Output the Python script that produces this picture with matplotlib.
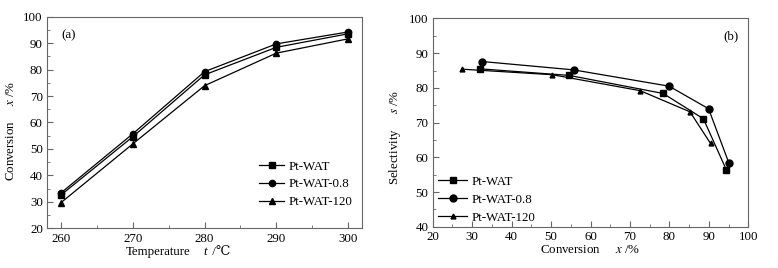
import matplotlib
matplotlib.use("Agg")
import matplotlib.pyplot as plt
from matplotlib.ticker import MultipleLocator

plt.rcParams['font.family'] = ['Liberation Serif', 'DejaVu Serif']
plt.rcParams['font.size'] = 9.3
plt.rcParams['mathtext.fontset'] = 'stix'

# panel (a): conversion vs temperature
temp = [260, 270, 280, 290, 300]
conv_wat = [32.6, 54.6, 78.0, 88.4, 93.5]
conv_wat08 = [33.4, 55.7, 79.2, 89.7, 94.2]
conv_wat120 = [29.7, 51.9, 73.9, 86.2, 91.6]

# panel (b): selectivity vs conversion
x_wat = [31.9, 54.6, 78.4, 88.6, 94.4]
s_wat = [85.5, 83.6, 78.4, 71.1, 56.4]
x_wat08 = [32.6, 55.7, 79.9, 89.9, 95.0]
s_wat08 = [87.6, 85.2, 80.5, 74.0, 58.5]
x_wat120 = [27.4, 50.3, 72.6, 85.2, 90.4]
s_wat120 = [85.4, 83.8, 79.2, 73.1, 64.0]

labels = ['Pt-WAT', 'Pt-WAT-0.8', 'Pt-WAT-120']
spine_col = '#666666'

fig = plt.figure(figsize=(7.78, 2.68), dpi=100)
ax1 = fig.add_axes([0.0604, 0.148, 0.405, 0.790])
ax2 = fig.add_axes([0.556, 0.154, 0.406, 0.777])

ax1.plot(temp, conv_wat, color='black', lw=0.9, marker='s', ms=4, label=labels[0])
ax1.plot(temp, conv_wat08, color='black', lw=0.9, marker='o', ms=4.5, label=labels[1])
ax1.plot(temp, conv_wat120, color='black', lw=0.9, marker='^', ms=4.5, label=labels[2])
ax1.set_xlim(258.05, 301.95)
ax1.set_ylim(20, 100)
ax1.xaxis.set_major_locator(MultipleLocator(10))
ax1.xaxis.set_minor_locator(MultipleLocator(5))
ax1.yaxis.set_major_locator(MultipleLocator(10))
ax1.yaxis.set_minor_locator(MultipleLocator(5))
# x label split so the degree sign can fall back to DejaVu
ax1.text(0.352, -0.085, 'Temperature', transform=ax1.transAxes, ha='center', va='top')
ax1.text(0.497, -0.085, 't', style='italic', transform=ax1.transAxes, ha='left', va='top')
ax1.text(0.515, -0.085, ' /\u2103', transform=ax1.transAxes, ha='left', va='top')
ax1.set_ylabel('Conversion     $x$ /%')
ax1.yaxis.set_label_coords(-0.095, 0.46)
ax1.text(0.045, 0.9, '(a)', transform=ax1.transAxes)
ax1.legend(loc='lower right', frameon=False, handlelength=2.0, handletextpad=0.3,
           labelspacing=0.45, bbox_to_anchor=(0.985, 0.07), borderaxespad=0)

ax2.plot(x_wat, s_wat, color='black', lw=0.9, marker='s', ms=4, label=labels[0])
ax2.plot(x_wat08, s_wat08, color='black', lw=0.9, marker='o', ms=5, label=labels[1])
ax2.plot(x_wat120, s_wat120, color='black', lw=0.9, marker='^', ms=3.5, label=labels[2])
ax2.set_xlim(20, 100)
ax2.set_ylim(40, 100)
ax2.xaxis.set_major_locator(MultipleLocator(10))
ax2.xaxis.set_minor_locator(MultipleLocator(5))
ax2.yaxis.set_major_locator(MultipleLocator(10))
ax2.yaxis.set_minor_locator(MultipleLocator(5))
ax2.set_xlabel('Conversion     $x$ /%')
ax2.xaxis.set_label_coords(0.5, -0.085)
ax2.set_ylabel('Selectivity     $s$ /%')
ax2.yaxis.set_label_coords(-0.095, 0.43)
ax2.text(0.92, 0.9, '(b)', transform=ax2.transAxes)
ax2.legend(loc='lower left', frameon=False, handlelength=2.3, handletextpad=0.3,
           labelspacing=0.45, bbox_to_anchor=(0.0, -0.01), borderaxespad=0)

for ax in (ax1, ax2):
    for sp in ax.spines.values():
        sp.set_color(spine_col)
        sp.set_linewidth(0.8)
    ax.tick_params(which='both', direction='in', color=spine_col, top=False, right=False)
    ax.tick_params(which='major', length=4, pad=3)
    ax.tick_params(which='minor', length=2)

fig.savefig('out.png', dpi=100)
